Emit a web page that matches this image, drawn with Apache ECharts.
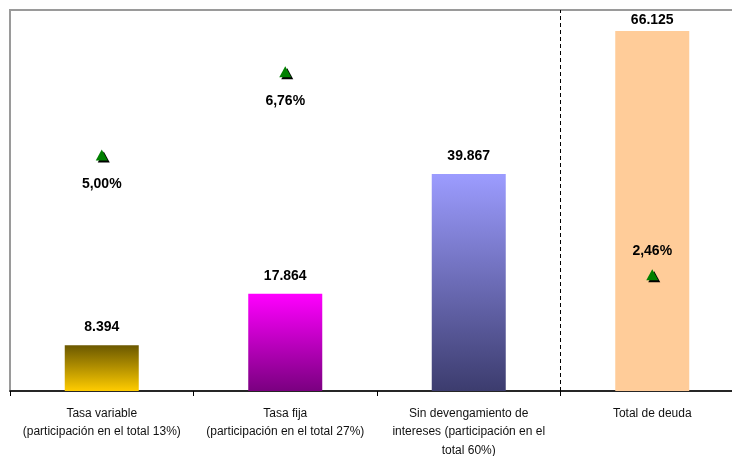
<!DOCTYPE html>
<html><head><meta charset="utf-8">
<script src="https://cdn.jsdelivr.net/npm/echarts@6/dist/echarts.min.js"></script>
<style>html,body{margin:0;padding:0;background:#fff}#c{width:732px;height:456px}</style>
</head><body><div id="c"></div>
<script>
var categories = ["Tasa variable\n(participación en el total 13%)", "Tasa fija\n(participación en el total 27%)", "Sin devengamiento de\nintereses (participación en el\ntotal 60%)", "Total de deuda"];
var amounts = [8394, 17864, 39867, 66125];
var rates = [5.00, 6.76, null, 2.46];
var rateLabelPos = ["bottom", "bottom", "bottom", "top"];
var dividerAt = [2.5];

var barColors = [
  new echarts.graphic.LinearGradient(0,0,0,1,[{offset:0,color:'#6b5800'},{offset:1,color:'#ffcc00'}]),
  new echarts.graphic.LinearGradient(0,0,0,1,[{offset:0,color:'#ff00ff'},{offset:1,color:'#7a0080'}]),
  new echarts.graphic.LinearGradient(0,0,0,1,[{offset:0,color:'#9c9cff'},{offset:1,color:'#3c3c6e'}]),
  '#ffcc99'
];
var fmtN = function(v){ return String(v).replace(/\B(?=(\d{3})+(?!\d))/g,'.'); };
var font = 'Liberation Sans';
var chart = echarts.init(document.getElementById('c'));
chart.setOption({
  animation:false,
  textStyle:{fontFamily:font},
  grid:{left:10, top:10, width:734, height:381, show:true, borderColor:'#9a9a9a', borderWidth:2, containLabel:false, outerBoundsMode:'none'},
  xAxis:[{
    type:'category', data:categories, boundaryGap:true,
    axisLine:{lineStyle:{color:'#000', width:1.5}},
    axisTick:{show:true, inside:false, length:5, lineStyle:{color:'#000'}},
    axisLabel:{color:'#111', fontSize:12, lineHeight:18.5, margin:13, interval:0, fontFamily:font},
    splitLine:{show:false}
  },{
    type:'value', min:-0.5, max:3.5, show:false
  }],
  yAxis:[
    {type:'value', min:0, max:70000, show:true, axisLine:{show:false}, axisLabel:{show:false}, axisTick:{show:false}, splitLine:{show:false}},
    {type:'value', min:0, max:8.07, show:false}
  ],
  series:[
    {type:'bar', barWidth:74, yAxisIndex:0,
     data: amounts.map(function(v,i){return {value:v, itemStyle:{color:barColors[i]}, label:{distance: i===3?4:11}};}),
     label:{show:true, position:'top', fontWeight:'bold', fontSize:14, color:'#000', formatter:function(p){return fmtN(p.value);}}
    },
    {type:'scatter', yAxisIndex:1, symbol:'triangle', symbolSize:[12,11],
     itemStyle:{color:'#008000', opacity:1, shadowColor:'#000', shadowOffsetX:2, shadowOffsetY:2, shadowBlur:0},
     data: rates.map(function(v,i){ return v==null?null:{value:[i,v], label:{position:rateLabelPos[i], distance: rateLabelPos[i]==='top'?11:17}}; }).filter(function(d){return d;}),
     label:{show:true, fontWeight:'bold', fontSize:14, color:'#000',
       formatter:function(p){return p.value[1].toFixed(2).replace('.',',')+'%';}}
    },
    {type:'line', xAxisIndex:1, yAxisIndex:0, data:[], silent:true,
     markLine:{silent:true, symbol:'none', label:{show:false},
       lineStyle:{color:'#000', type:[4,3], width:1},
       data: dividerAt.map(function(x){return {xAxis:x};})}
    }
  ]
});
</script></body></html>
